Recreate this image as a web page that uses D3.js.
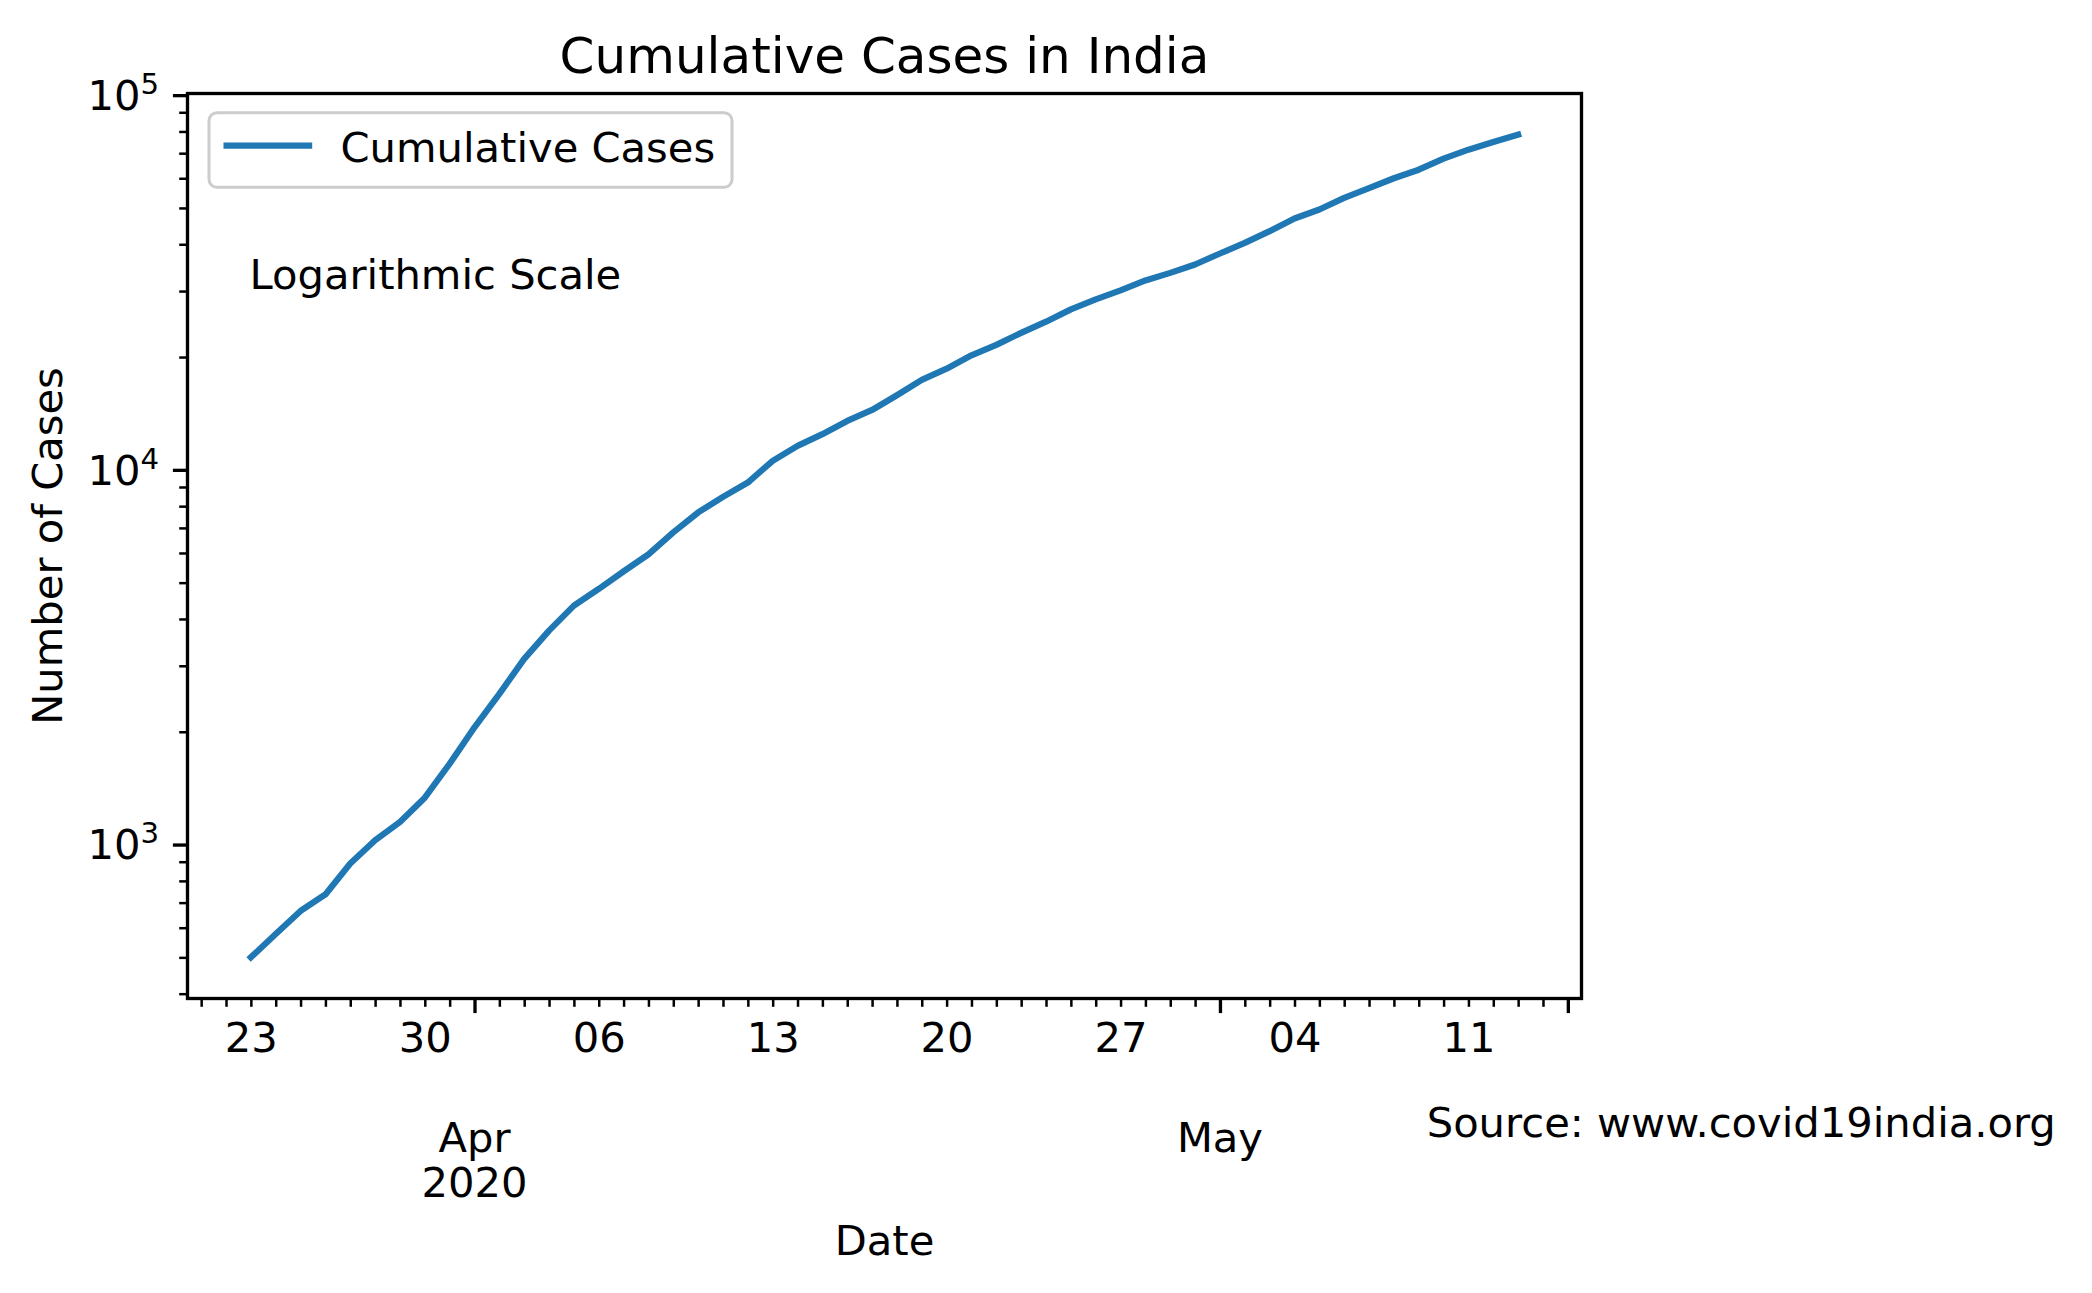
<!DOCTYPE html>
<html>
<meta charset="utf-8">
<head>
    <title>Cumulative Cases in India</title>
</head>

<style>
    body { margin: 0; background: white; }
    text { font-family: "DejaVu Sans", sans-serif; fill: black; }
</style>

<script src="https://d3js.org/d3.v7.min.js"></script>

<body>
<div id="chart"></div>

<script>

// data (cumulative confirmed cases, log scale)
var dates = ["2020-03-23","2020-03-24","2020-03-25","2020-03-26","2020-03-27","2020-03-28","2020-03-29",
  "2020-03-30","2020-03-31","2020-04-01","2020-04-02","2020-04-03","2020-04-04","2020-04-05",
  "2020-04-06","2020-04-07","2020-04-08","2020-04-09","2020-04-10","2020-04-11","2020-04-12",
  "2020-04-13","2020-04-14","2020-04-15","2020-04-16","2020-04-17","2020-04-18","2020-04-19",
  "2020-04-20","2020-04-21","2020-04-22","2020-04-23","2020-04-24","2020-04-25","2020-04-26",
  "2020-04-27","2020-04-28","2020-04-29","2020-04-30","2020-05-01","2020-05-02","2020-05-03",
  "2020-05-04","2020-05-05","2020-05-06","2020-05-07","2020-05-08","2020-05-09","2020-05-10",
  "2020-05-11","2020-05-12","2020-05-13"]
var cases = [500, 577, 665, 736, 890, 1027, 1149,
  1334, 1643, 2056, 2524, 3131, 3724, 4342,
  4810, 5360, 5950, 6810, 7696, 8472, 9250,
  10570, 11590, 12450, 13510, 14450, 15820, 17380,
  18620, 20210, 21550, 23210, 24850, 26800, 28500,
  30120, 32020, 33550, 35320, 37790, 40330, 43340,
  46850, 49520, 53180, 56500, 60000, 63240, 67700,
  71540, 74950, 78450]

// tick labels
var weekTicks = ["2020-03-23","2020-03-30","2020-04-06","2020-04-13","2020-04-20","2020-04-27","2020-05-04","2020-05-11"]
var monthTicks = ["2020-04-01","2020-05-01","2020-05-15"]
var monthLabels = [["Apr","2020"], ["May"], []]

var W = 2092, H = 1293
var margin = {left: 187.5, right: 1581.5, top: 93.5, bottom: 998.5}
var FS = 41.67   // 10pt at 300 dpi

var parse = d3.timeParse("%Y-%m-%d")
var data = dates.map(function(d, i) { return {date: parse(d), value: cases[i]}; })

var svg = d3.select("#chart")
  .append("svg")
  .attr("width", W)
  .attr("height", H)

// x scale with 5% padding like matplotlib
var ext = d3.extent(data, function(d) { return d.date; })
var pad = (ext[1] - ext[0]) * 0.05
var x = d3.scaleTime()
  .domain([new Date(+ext[0] - pad), new Date(+ext[1] + pad)])
  .range([margin.left, margin.right])

// y log scale, 5% padding in log space
var lext = d3.extent(cases).map(Math.log10)
var lpad = (lext[1] - lext[0]) * 0.05
var y = d3.scaleLog()
  .domain([Math.pow(10, lext[0] - lpad), Math.pow(10, lext[1] + lpad)])
  .range([margin.bottom, margin.top])

// ---- x axis ticks
var majorDates = monthTicks.map(parse)
var dayTicks = d3.timeDay.range(d3.timeDay.ceil(x.domain()[0]), x.domain()[1])
  .filter(function(d) { return !majorDates.some(function(m) { return +m == +d; }); })

var gx = svg.append("g").attr("transform", "translate(0," + margin.bottom + ")")

gx.append("g")
  .call(d3.axisBottom(x).tickValues(dayTicks).tickSize(8.3).tickFormat(""))
  .call(function(g) { g.select(".domain").remove(); g.selectAll("line").attr("stroke-width", 2.5); })

gx.append("g")
  .call(d3.axisBottom(x).tickValues(majorDates).tickSize(14.6).tickFormat(""))
  .call(function(g) { g.select(".domain").remove(); g.selectAll("line").attr("stroke-width", 3.33); })

// weekly day labels
gx.append("g")
  .call(d3.axisBottom(x).tickValues(weekTicks.map(parse)).tickSize(0).tickFormat(d3.timeFormat("%d")))
  .call(function(g) {
    g.select(".domain").remove()
    g.selectAll("text")
      .attr("y", 1051.7 - margin.bottom)
      .attr("dy", null)
      .attr("font-size", FS)
      .attr("font-family", "DejaVu Sans")
      .attr("fill", "black")
  })

// month labels
majorDates.forEach(function(m, i) {
  monthLabels[i].forEach(function(s, j) {
    svg.append("text")
      .attr("x", x(m))
      .attr("y", 1152 + j * 45)
      .attr("text-anchor", "middle")
      .attr("font-size", FS)
      .text(s)
  })
})

// ---- y axis ticks
var yt = y.ticks()
var yMajor = yt.filter(function(v) { return Math.abs(Math.log10(v) - Math.round(Math.log10(v))) < 1e-9; })
var yMinor = yt.filter(function(v) { return yMajor.indexOf(v) < 0; })

var gy = svg.append("g").attr("transform", "translate(" + margin.left + ",0)")

gy.append("g")
  .call(d3.axisLeft(y).tickValues(yMinor).tickSize(8.3).tickFormat(""))
  .call(function(g) { g.select(".domain").remove(); g.selectAll("line").attr("stroke-width", 2.5); })

gy.append("g")
  .call(d3.axisLeft(y).tickValues(yMajor).tickSize(14.6).tickFormat(""))
  .call(function(g) { g.select(".domain").remove(); g.selectAll("line").attr("stroke-width", 3.33); })

// 10^n labels
yMajor.forEach(function(v) {
  var t = svg.append("text")
    .attr("x", 159)
    .attr("y", y(v) + 14.8)
    .attr("text-anchor", "end")
    .attr("font-size", FS)
  t.append("tspan").text("10")
  t.append("tspan").attr("dy", -16).attr("font-size", 29.2).text(Math.round(Math.log10(v)))
})

// ---- the line
var line = d3.line()
  .x(function(d) { return x(d.date); })
  .y(function(d) { return y(d.value); })

svg.append("path")
  .datum(data)
  .attr("d", line)
  .attr("fill", "none")
  .attr("stroke", "#1f77b4")
  .attr("stroke-width", 6.25)
  .attr("stroke-linecap", "square")
  .attr("stroke-linejoin", "round")

// axes frame
svg.append("rect")
  .attr("x", margin.left)
  .attr("y", margin.top)
  .attr("width", margin.right - margin.left)
  .attr("height", margin.bottom - margin.top)
  .attr("fill", "none")
  .attr("stroke", "black")
  .attr("stroke-width", 3.33)

// legend
var lg = svg.append("g")
lg.append("rect")
  .attr("x", 209).attr("y", 112.7)
  .attr("width", 523).attr("height", 74.6)
  .attr("rx", 8)
  .attr("fill", "white").attr("fill-opacity", 0.8)
  .attr("stroke", "#cccccc").attr("stroke-width", 3)
lg.append("line")
  .attr("x1", 223.5).attr("x2", 312.2)
  .attr("y1", 145.7).attr("y2", 145.7)
  .attr("stroke", "#1f77b4").attr("stroke-width", 6.25)
lg.append("text")
  .attr("x", 340.5).attr("y", 161.7)
  .attr("font-size", FS)
  .text("Cumulative Cases")

// annotation
svg.append("text")
  .attr("x", 249.5).attr("y", 289.3)
  .attr("font-size", FS)
  .text("Logarithmic Scale")

// title and axis labels
svg.append("text")
  .attr("x", (margin.left + margin.right) / 2).attr("y", 73.3)
  .attr("text-anchor", "middle")
  .attr("font-size", 50)
  .text("Cumulative Cases in India")

svg.append("text")
  .attr("transform", "translate(61.7," + (margin.top + margin.bottom) / 2 + ") rotate(-90)")
  .attr("text-anchor", "middle")
  .attr("font-size", FS)
  .text("Number of Cases")

svg.append("text")
  .attr("x", (margin.left + margin.right) / 2).attr("y", 1255)
  .attr("text-anchor", "middle")
  .attr("font-size", FS)
  .text("Date")

svg.append("text")
  .attr("x", 1426.7).attr("y", 1136.7)
  .attr("font-size", FS)
  .text("Source: www.covid19india.org")

</script>
</body>
</html>
